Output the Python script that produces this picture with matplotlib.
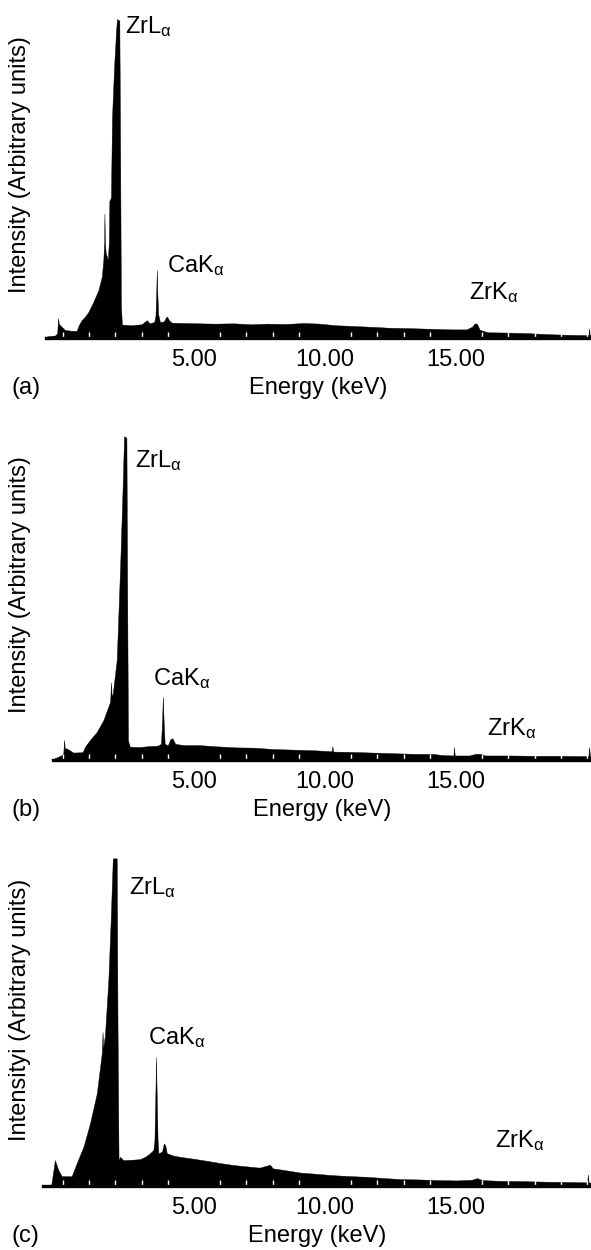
import numpy as np
import matplotlib
matplotlib.use("Agg")
import matplotlib.pyplot as plt

plt.rcParams['font.family'] = ['Liberation Sans', 'DejaVu Sans']
plt.rcParams['mathtext.fontset'] = 'custom'
plt.rcParams['mathtext.rm'] = 'Liberation Sans'
plt.rcParams['mathtext.it'] = 'Liberation Sans'

# spectrum (a): energy in keV, intensity in % of the ZrL peak
energy_a = [-0.62, -0.30, -0.22, -0.19, -0.16, -0.09, 0.08, 0.30, 0.52, 0.60, 0.71, 0.85,
            0.97, 1.16, 1.35, 1.48, 1.54, 1.57, 1.58, 1.60, 1.63, 1.71, 1.75, 1.77, 1.83,
            1.87, 1.95, 2.02, 2.06, 2.15, 2.18, 2.21, 2.25, 2.60, 3.00, 3.20, 3.30, 3.48,
            3.53, 3.56, 3.58, 3.60, 3.63, 3.70, 3.85, 3.93, 3.97, 4.05, 4.15, 4.60, 5.20,
            5.80, 6.50, 7.20, 7.80, 8.50, 9.20, 9.80, 10.40, 11.00, 11.80, 12.50, 13.20,
            14.00, 14.80, 15.40, 15.60, 15.72, 15.80, 15.90, 16.20, 17.00, 17.80, 18.50,
            19.30, 20.05, 20.08, 20.10, 20.15]
counts_a = [0.5, 0.8, 1.5, 6.2, 4.5, 3.8, 2.5, 2.3, 2.2, 4.0, 5.6, 6.8,
            8.2, 11.4, 15.0, 19.2, 24.5, 30, 39, 30, 26.6, 24.5, 30, 43, 44,
            69, 85, 95.6, 100, 99.5, 60, 10, 4.2, 4.0, 4.3, 5.6, 4.6, 5.0,
            7.0, 15, 21.3, 14, 7.5, 5.0, 5.2, 6.5, 6.7, 5.5, 4.8, 4.7, 4.6,
            4.5, 4.6, 4.3, 4.5, 4.4, 4.7, 4.5, 4.0, 3.8, 3.5, 3.2, 3.1,
            2.9, 2.7, 2.7, 3.5, 4.6, 4.4, 2.6, 1.8, 1.7, 1.5, 1.2,
            1.0, 0.9, 3.0, 0.9, 0.9]

# spectrum (b)
energy_b = [-0.38, -0.05, 0.01, 0.04, 0.07, 0.14, 0.39, 0.75, 0.84, 1.03, 1.29, 1.54,
            1.73, 1.80, 1.83, 1.86, 1.90, 2.05, 2.18, 2.28, 2.33, 2.42, 2.45, 2.48, 2.55,
            2.90, 3.30, 3.60, 3.74, 3.78, 3.81, 3.84, 3.88, 4.00, 4.10, 4.18, 4.28, 4.60,
            5.20, 5.90, 6.60, 7.30, 8.00, 8.80, 9.60, 10.25, 10.28, 10.31, 11.00, 11.80,
            12.60, 13.40, 14.10, 14.50, 14.90, 14.92, 14.95, 15.50, 15.75, 15.95, 16.10,
            17.00, 18.00, 19.00, 20.05, 20.08, 20.11, 20.15]
counts_b = [0.3, 1.5, 2.0, 6.2, 3.5, 3.6, 2.3, 2.4, 4.1, 6.2, 8.7, 12.3,
            16.5, 18, 24, 19.5, 20.6, 30.9, 59.7, 85.5, 100, 99.5, 50, 6, 4.1,
            4.0, 4.3, 4.4, 5.0, 12, 19.5, 12, 5.0, 4.5, 6.5, 6.7, 5.0, 4.6,
            4.6, 4.2, 3.9, 3.8, 3.4, 3.2, 3.0, 2.7, 4.2, 2.6, 2.5, 2.3,
            2.1, 1.9, 1.9, 1.5, 1.4, 4.0, 1.4, 1.4, 1.9, 1.9, 1.4,
            1.4, 1.3, 1.3, 1.2, 4.0, 1.2, 1.2]

# spectrum (c)
energy_c = [-0.76, -0.45, -0.38, -0.31, -0.18, -0.05, 0.33, 0.52, 0.78, 1.03, 1.29, 1.48,
            1.51, 1.53, 1.60, 1.73, 1.82, 1.90, 2.05, 2.08, 2.12, 2.18, 2.30, 2.60, 2.94,
            3.15, 3.32, 3.45, 3.49, 3.53, 3.55, 3.57, 3.61, 3.64, 3.78, 3.85, 3.90, 3.96,
            4.20, 4.47, 5.00, 5.48, 6.00, 6.50, 7.00, 7.50, 7.90, 8.00, 8.50, 9.05, 9.70,
            10.30, 11.00, 11.60, 12.30, 12.90, 13.60, 14.30, 15.00, 15.60, 15.80, 16.00,
            16.60, 17.50, 18.50, 19.50, 20.00, 20.03, 20.06, 20.15]
counts_c = [0.2, 0.3, 4, 7.9, 4.9, 3.0, 3.0, 6.9, 12.0, 19.1, 28.3, 40.5,
            47, 42, 46, 62.8, 81.1, 100, 100, 50, 8, 8.9, 7.9, 8.0, 8.2,
            9.0, 10.0, 11, 14, 30, 39.4, 30, 14, 10.0, 10.5, 13.0, 12.5, 10.0,
            9.3, 8.9, 8.3, 7.7, 7.0, 6.4, 6.0, 5.6, 6.5, 5.4, 4.8, 4.1, 3.7,
            3.3, 3.0, 2.8, 2.4, 2.1, 2.0, 1.8, 1.7, 1.9, 2.4, 1.8,
            1.6, 1.5, 1.3, 1.2, 1.1, 3.5, 1.1, 1.0]

tick_pos = [5, 10, 15]
tick_txt = ['5.00', '10.00', '15.00']
ylabels = ['Intensity (Arbitrary units)', 'Intensity (Arbitrary units)',
           'Intensityi (Arbitrary units)']
tags = ['(a)', '(b)', '(c)']
note_txt = ['ZrL$_\\alpha$', 'CaK$_\\alpha$', 'ZrK$_\\alpha$']

# annotation anchors (energy, intensity)
notes = [
    [(2.37, 97.5), (3.97, 22.6), (15.5, 14.4)],
    [(2.75, 92.6), (3.44, 25.0), (16.2, 9.6)],
    [(2.52, 91.2), (3.24, 45.4), (16.5, 14.0)],
]

W, H = 591, 1250
fig = plt.figure(figsize=(W / 100, H / 100), dpi=100)

# pixel layout of each panel: left edge, baseline, top, y-label centre
boxes = [(46, 338, 3, 165), (53, 760, 420, 585), (43, 1186, 842, 1010)]
xmax = 20.15
px_per_kev = 26.2
fs = 17

spectra = [(energy_a, counts_a), (energy_b, counts_b), (energy_c, counts_c)]

for k in range(3):
    left, base, top, yc = boxes[k]
    ax = fig.add_axes([left / W, 1 - base / H, (W - left) / W, (base - top) / H])
    e, c = spectra[k]
    ax.fill_between(e, c, 0, color='black', linewidth=0.3, edgecolor='black')
    ax.set_xlim((left - 63) / px_per_kev, xmax)
    ax.set_ylim(0, 105)
    for s in ['top', 'right', 'left']:
        ax.spines[s].set_visible(False)
    ax.spines['bottom'].set_linewidth(2.4)
    ax.set_yticks([])
    ax.set_xticks(tick_pos)
    ax.set_xticklabels(tick_txt, fontsize=fs)
    ax.set_xticks(np.arange(0, 21), minor=True)
    ax.tick_params(axis='x', which='major', length=0, pad=8)
    ax.tick_params(axis='x', which='minor', direction='in', length=4,
                   width=1, color='white')
    ax.set_xlabel('Energy (keV)', fontsize=fs, labelpad=4)
    ax.set_ylabel(ylabels[k], fontsize=fs, va='center')
    ax.yaxis.set_label_coords(20 / W, 1 - yc / H, transform=fig.transFigure)
    for (ex, iy), t in zip(notes[k], note_txt):
        ax.text(ex, iy, t, fontsize=fs, ha='left', va='center')
    fig.text(12 / W, 1 - (base + 50) / H, tags[k], fontsize=fs, ha='left', va='center')

fig.savefig('out.png', dpi=100)
